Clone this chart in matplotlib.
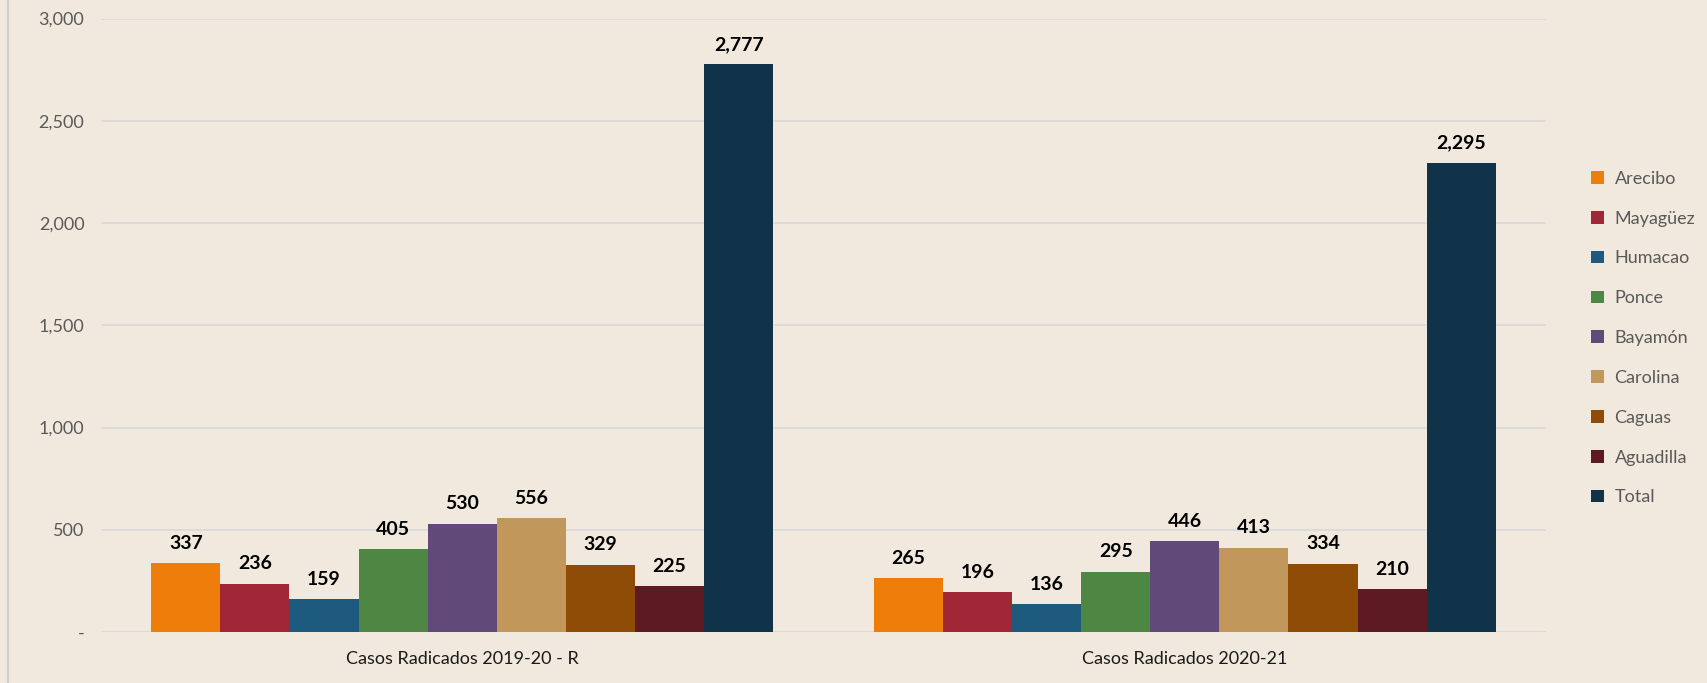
import matplotlib
matplotlib.use('Agg')
import matplotlib.pyplot as plt
from matplotlib.ticker import FuncFormatter
import numpy as np

plt.rcParams['font.family'] = ['Lato', 'DejaVu Sans']

groups = ['Casos Radicados 2019-20 - R', 'Casos Radicados 2020-21']
regions = ['Arecibo', 'Mayagüez', 'Humacao', 'Ponce', 'Bayamón',
           'Carolina', 'Caguas', 'Aguadilla', 'Total']
vals_1920 = [337, 236, 159, 405, 530, 556, 329, 225, 2777]
vals_2021 = [265, 196, 136, 295, 446, 413, 334, 210, 2295]
colors = ['#EF7D0A', '#A12737', '#1E5A7E', '#4E8643', '#61497A',
          '#C2975B', '#8E4C06', '#5E1A22', '#11334A']

bg = '#F1E9DD'
fig = plt.figure(figsize=(17.07, 6.83), dpi=100, facecolor=bg)
ax = fig.add_axes([101/1707, 1 - 632/683, 1445/1707, (632 - 18.5)/683])
ax.set_facecolor(bg)

x = np.arange(len(groups))
n = len(regions)
group_w = 0.861
bw = group_w / n
data = np.array([vals_1920, vals_2021])
for i, reg in enumerate(regions):
    pos = x - group_w / 2 + bw * (i + 0.5)
    bars = ax.bar(pos, data[:, i], width=bw, color=colors[i], label=reg,
                  zorder=3)
    for b, v in zip(bars, data[:, i]):
        ax.text(b.get_x() + b.get_width() / 2, v + 55, f'{v:,}',
                ha='center', va='bottom', fontsize=14, fontweight='bold',
                color='black')

ax.set_xlim(-0.5, 1.5)
ax.set_ylim(0, 3000)
ax.set_yticks(range(0, 3001, 500))
ax.yaxis.set_major_formatter(FuncFormatter(lambda v, p: '-' if v == 0 else f'{int(v):,}'))
ax.grid(axis='y', color='#D9D9D9', lw=1.2, zorder=0)
ax.set_xticks(x)
ax.set_xticklabels(groups, fontsize=13, color='#1a1a1a')
ax.tick_params(axis='both', length=0)
ax.tick_params(axis='y', labelsize=13, labelcolor='#595959', pad=12)
ax.tick_params(axis='x', pad=14)
for s in ax.spines.values():
    s.set_visible(False)

ax.legend(loc='center left', bbox_to_anchor=(1.02, 0.479), frameon=False,
          fontsize=13, labelcolor='#595959', handlelength=0.7,
          handleheight=0.7, labelspacing=1.32, handletextpad=0.6)

fig.add_artist(plt.Line2D([8/1707, 8/1707], [0, 1], color='#D0D0D0', lw=1.5))

fig.savefig('out.png', dpi=100, facecolor=bg)
